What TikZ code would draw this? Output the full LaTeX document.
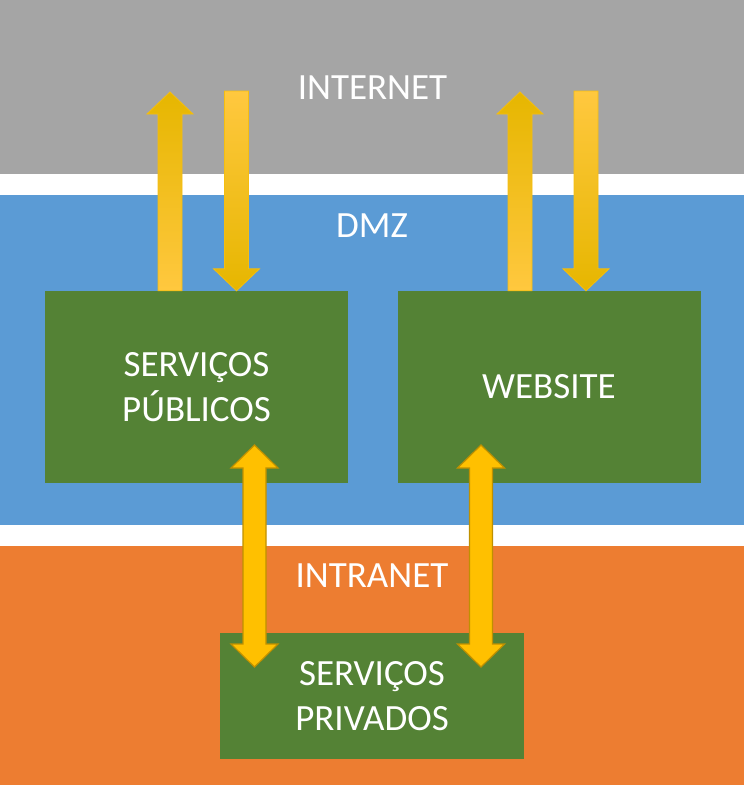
\documentclass[tikz,border=0pt]{standalone}
\usepackage{fontspec}
\setmainfont{Carlito}
\usetikzlibrary{calc}
\definecolor{bgray}{HTML}{A5A5A5}
\definecolor{bblue}{HTML}{5B9BD5}
\definecolor{borange}{HTML}{ED7D31}
\definecolor{bgreen}{HTML}{548235}
\definecolor{gold}{HTML}{FFC000}
\definecolor{golddark}{HTML}{E6B600}
\definecolor{goldlight}{HTML}{FFC83F}
\definecolor{goldedge}{HTML}{BF9000}
\definecolor{goldline}{HTML}{F5BE10}
\newcommand{\blockarrow}[3]{%
  \coordinate (H) at ($(#3)!22pt!(#2)$);
  \path[#1] ($(#2)!12pt!90:(#3)$) -- ($(H)!12pt!90:(#3)$) -- ($(H)!23pt!90:(#3)$) -- (#3)
    -- ($(H)!23pt!-90:(#3)$) -- ($(H)!12pt!-90:(#3)$) -- ($(#2)!12pt!-90:(#3)$) -- cycle;}
\newcommand{\dblarrow}[3]{%
  \coordinate (H1) at ($(#2)!23pt!(#3)$);
  \coordinate (H2) at ($(#3)!23pt!(#2)$);
  \path[#1] (#2) -- ($(H1)!23.5pt!90:(#3)$) -- ($(H1)!11.5pt!90:(#3)$) -- ($(H2)!11.5pt!-90:(#2)$)
    -- ($(H2)!23.5pt!-90:(#2)$) -- (#3) -- ($(H2)!23.5pt!90:(#2)$) -- ($(H2)!11.5pt!90:(#2)$)
    -- ($(H1)!11.5pt!-90:(#3)$) -- ($(H1)!23.5pt!-90:(#3)$) -- cycle;}
\tikzset{
  lbl/.style={text=white, font=\fontsize{37}{45}\selectfont, align=center, inner sep=0pt},
  box/.style={lbl, fill=bgreen, minimum width=303pt, minimum height=192pt},
  uparr/.style={top color=golddark, middle color=gold, bottom color=goldlight, draw=goldline, line width=0.8pt},
  downarr/.style={top color=goldlight, middle color=gold, bottom color=golddark, draw=goldline, line width=0.8pt},
  dblarr/.style={fill=gold, draw=goldedge, line width=1.2pt, line join=miter},
}
\begin{document}
\begin{tikzpicture}[x=1pt,y=-1pt]
\fill[white] (0,0) rectangle (744,785);
\useasboundingbox (0,0) rectangle (744,785);
\fill[bgray] (0,0) rectangle (744,174);
\fill[bblue] (0,195) rectangle (744,525);
\fill[borange] (0,546) rectangle (744,785);
\node[lbl, anchor=base] (internet) at (372.5,99) {INTERNET};
\node[lbl, anchor=base] (dmz) at (372,237) {DMZ};
\node[lbl, anchor=base] (intranet) at (372,587) {INTRANET};
\node[box] (pub) at (196.5,387) {SERVIÇOS\\PÚBLICOS};
\node[box] (web) at (549,387) {WEBSITE};
\node[box, minimum width=304pt, minimum height=126pt] (priv) at (372,696) {SERVIÇOS\\PRIVADOS};
% internet arrows
\coordinate (a1t) at (pub.north -| 170,0);
\coordinate (a1h) at (170,92);
\coordinate (a2t) at (236.5,91);
\coordinate (a2h) at (pub.north -| 236.5,0);
\coordinate (a3t) at (web.north -| 520,0);
\coordinate (a3h) at (520,92);
\coordinate (a4t) at (586,91);
\coordinate (a4h) at (web.north -| 586,0);
\blockarrow{uparr}{a1t}{a1h}
\blockarrow{downarr}{a2t}{a2h}
\blockarrow{uparr}{a3t}{a3h}
\blockarrow{downarr}{a4t}{a4h}
% intranet arrows
\coordinate (d1a) at (254.5,445);
\coordinate (d1b) at (254.5,667);
\coordinate (d2a) at (481,445);
\coordinate (d2b) at (481,667);
\dblarrow{dblarr}{d1a}{d1b}
\dblarrow{dblarr}{d2a}{d2b}
\end{tikzpicture}
\end{document}
